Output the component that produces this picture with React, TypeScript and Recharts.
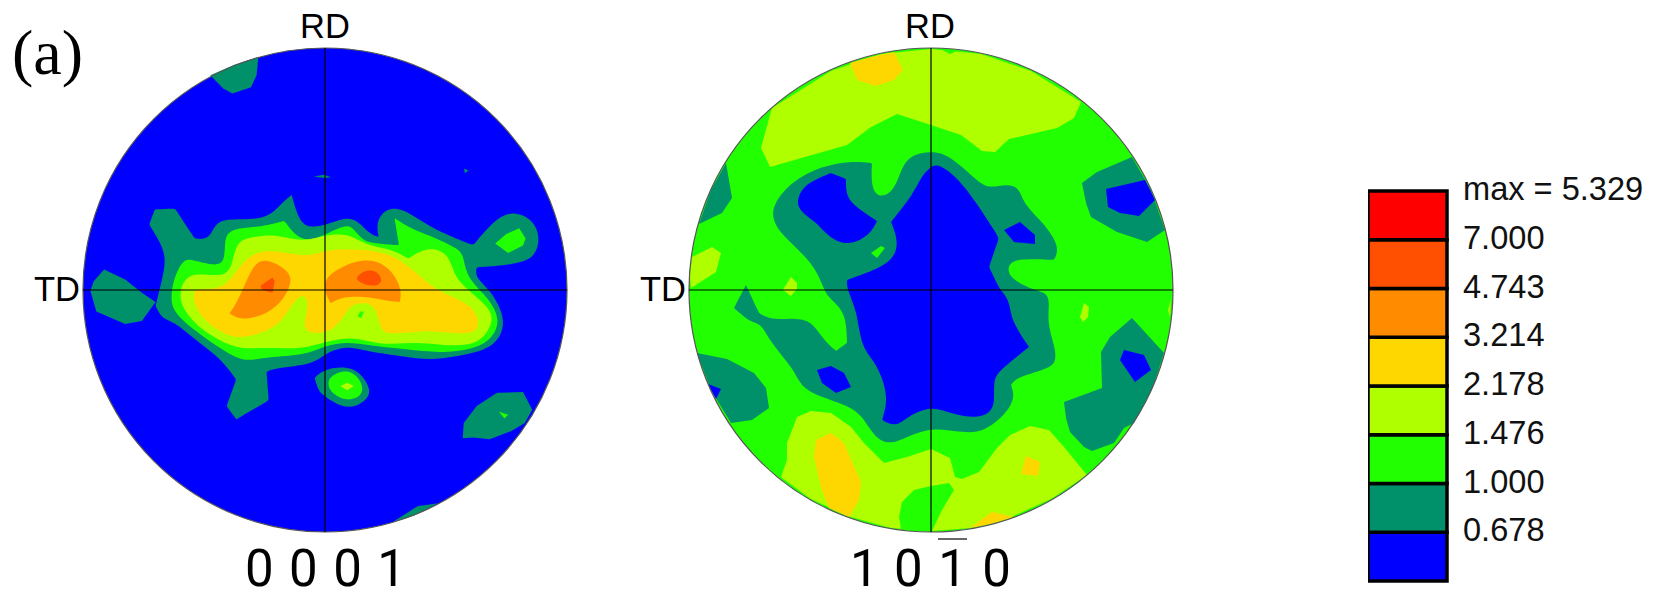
import React from 'react';
import { BarChart, Bar, ScatterChart, Scatter, XAxis, YAxis, ReferenceDot, ReferenceLine } from 'recharts';

type Pt = [number, number];

const BLUE = '#0000ff';
const TEAL = '#00916a';
const GREEN = '#22ff00';
const LIME = '#b0ff00';
const YELLOW = '#ffd700';
const ORANGE = '#ff8c00';
const VERMILION = '#ff4f00';
const RED = '#ff0000';

const legendColors = [BLUE, TEAL, GREEN, LIME, YELLOW, ORANGE, VERMILION, RED];
const legendLabels = ['0.678', '1.000', '1.476', '2.178', '3.214', '4.743', '7.000', 'max = 5.329'];

// Repeated vertices mark the sharp tips of a contour.
// ---- pole figure 0001: read on a grid whose disc spans 226..1534 / 128..1408 ----
const basalTealBody: Pt[] = [[405,595],[405,595],[420,555],[420,555],[475,553],[475,553],[528,632],[528,632],[565,635],[580,600],[605,577],[720,585],[760,540],[790,517],[790,517],[790,517],[810,585],[835,603],[880,598],[935,575],[970,585],[1000,620],[1025,628],[1025,628],[1018,590],[1040,555],[1085,547],[1165,605],[1280,650],[1280,650],[1345,575],[1390,560],[1440,580],[1462,625],[1450,680],[1400,700],[1290,708],[1290,708],[1285,735],[1330,770],[1372,850],[1345,910],[1290,935],[1170,955],[1100,945],[990,930],[940,915],[880,935],[850,965],[740,975],[722,985],[722,985],[728,1060],[728,1060],[640,1110],[640,1110],[640,1110],[614,1075],[614,1075],[640,1005],[640,1005],[600,950],[530,900],[470,850],[440,845],[422,810],[422,810],[440,740],[450,690],[440,650]];
const basalTealLobe: Pt[] = [[283,714],[340,740],[385,775],[422,800],[385,850],[340,858],[262,825],[246,770],[255,745]];
const basalTealTop: Pt[] = [[570,200],[635,172],[700,152],[695,200],[680,232],[630,248],[605,235]];
const basalTealDot1: Pt[] = [[850,468],[878,463],[896,470],[878,472]];
const basalTealDot2: Pt[] = [[1256,447],[1268,452],[1258,459]];
const basalTealBottom: Pt[] = [[1062,1382],[1130,1340],[1185,1332],[1120,1365]];
const basalTealLowerRight: Pt[] = [[1252,1160],[1255,1120],[1290,1075],[1345,1040],[1415,1038],[1440,1085],[1420,1120],[1385,1140],[1325,1163],[1280,1158]];
const basalTealSpot: Pt[] = [[852,1000],[852,1000],[880,975],[960,968],[1000,1020],[1002,1050],[965,1078],[925,1078],[880,1050],[862,1035]];
const basalGreenSpot: Pt[] = [[882,1010],[910,985],[955,980],[985,1020],[978,1050],[940,1062],[900,1045]];
const basalLimeSpot: Pt[] = [[922,1022],[940,1013],[958,1022],[940,1033]];
const basalGreenRight: Pt[] = [[1340,645],[1370,620],[1405,605],[1422,632],[1415,650],[1375,670]];
const basalGreenTiny: Pt[] = [[1350,1090],[1375,1098],[1365,1108]];
const basalGreenBody: Pt[] = [[463,790],[470,740],[495,690],[515,685],[580,705],[610,695],[608,640],[620,605],[700,603],[770,585],[770,585],[800,625],[835,640],[880,622],[940,592],[960,610],[985,640],[1020,645],[1080,650],[1080,650],[1068,578],[1068,578],[1068,578],[1120,610],[1180,630],[1230,655],[1255,670],[1260,735],[1325,790],[1355,850],[1330,900],[1280,925],[1190,935],[1100,925],[1000,915],[940,905],[880,915],[830,940],[720,945],[660,960],[600,925],[520,870],[470,825]];
const basalLimeBody: Pt[] = [[488,770],[500,740],[530,722],[610,735],[630,700],[640,640],[680,628],[750,620],[820,642],[880,622],[945,618],[990,650],[1060,660],[1105,685],[1105,685],[1160,652],[1215,670],[1230,735],[1270,770],[1325,815],[1335,850],[1310,895],[1270,915],[1200,915],[1130,905],[1030,915],[960,890],[880,905],[820,925],[720,920],[650,925],[590,900],[530,860],[490,810]];
const basalYellowBody: Pt[] = [[525,768],[540,765],[615,765],[655,690],[720,655],[830,685],[880,660],[970,660],[1060,670],[1130,725],[1180,770],[1250,795],[1290,825],[1298,870],[1270,885],[1200,880],[1140,875],[1060,885],[1030,880],[1020,815],[990,800],[950,805],[930,840],[900,875],[860,885],[815,875],[838,810],[825,778],[800,790],[760,860],[700,885],[640,898],[590,875],[545,840],[525,800]];
const basalGreenFleck: Pt[] = [[968,838],[975,825],[985,825],[978,842]];
const basalOrangeLeft: Pt[] = [[622,830],[622,830],[640,805],[665,750],[690,695],[725,685],[780,715],[792,745],[770,790],[730,830],[655,850]];
const basalOrangeRight: Pt[] = [[878,745],[900,720],[960,690],[1020,687],[1065,720],[1088,770],[1082,800],[1082,800],[1040,795],[985,785],[930,785],[895,803],[895,803],[880,775]];
const basalPeakLeft: Pt[] = [[706,757],[738,735],[744,745],[738,775],[710,768]];
const basalPeakRight: Pt[] = [[962,735],[990,714],[1020,717],[1036,740],[1025,758],[990,755],[970,745]];

// ---- pole figure 10-10: read on a grid centred on the disc, radius 242 ----
const prismLimeTop: Pt[] = [[-159,182],[-170,142],[-161,123],[-84,145],[-60,163],[-34,176],[0,165],[30,155],[51,139],[64,138],[78,151],[126,162],[143,172],[150,188],[100,219],[50,236],[0,241],[-50,236],[-100,219]];
const prismYellowTop: Pt[] = [[-81,227],[-60,233],[-37,238],[-28,220],[-37,210],[-55,204],[-74,210]];
const prismGreenTop: Pt[] = [[9,241],[19,236],[26,239],[18,241]];
const prismLimeLeft: Pt[] = [[-239,33],[-219,43],[-210,37],[-215,18],[-240,2],[-241,15]];
const prismLimeSmall: Pt[] = [[-147,2],[-140,13],[-134,7],[-134,1],[-140,-6],[-148,0]];
const prismTealEdgeLeft: Pt[] = [[-205,127],[-199,92],[-209,77],[-232,66],[-220,100]];
const prismTealMain: Pt[] = [[-59,127],[-59,127],[-80,129],[-110,124],[-140,108],[-157,87],[-159,73],[-152,57],[-117,27],[-107,0],[-102,-8],[-85,-22],[-84,-53],[-84,-53],[-95,-61],[-95,-61],[-109,-48],[-120,-30],[-140,-28],[-160,-30],[-172,-23],[-172,-23],[-185,5],[-185,5],[-185,5],[-197,-18],[-197,-18],[-197,-18],[-180,-33],[-170,-33],[-160,-53],[-139,-77],[-132,-92],[-122,-103],[-84,-115],[-69,-125],[-57,-147],[-42,-155],[-24,-147],[0,-137],[33,-143],[53,-142],[76,-123],[84,-107],[80,-95],[80,-95],[86,-87],[120,-78],[125,-70],[124,-57],[116,-33],[119,-10],[114,-2],[99,1],[79,12],[76,23],[84,32],[123,30],[123,30],[129,43],[113,67],[93,85],[88,103],[76,106],[59,102],[48,107],[19,135],[0,139],[-20,135],[-29,123],[-34,107],[-42,95],[-54,93],[-60,105]];
const prismBlueUpperLeft: Pt[] = [[-134,92],[-125,107],[-100,117],[-100,117],[-85,111],[-85,111],[-85,93],[-74,82],[-54,69],[-54,69],[-54,69],[-60,57],[-75,47],[-92,46],[-109,60],[-114,67],[-133,80]];
const prismBlueCentre: Pt[] = [[0,124],[-10,113],[-17,97],[-40,68],[-40,68],[-40,68],[-34,53],[-34,37],[-47,23],[-84,10],[-84,10],[-84,0],[-74,-20],[-70,-58],[-54,-73],[-42,-107],[-49,-130],[-49,-130],[-35,-137],[-24,-127],[0,-115],[23,-125],[46,-128],[59,-123],[64,-113],[62,-90],[69,-80],[98,-57],[98,-57],[98,-57],[80,-30],[79,-13],[72,-2],[69,0],[58,23],[58,23],[68,52],[68,52],[33,107],[9,126]];
const prismBlueInner: Pt[] = [[73,60],[89,68],[104,55],[104,46],[83,48]];
const prismGreenFleck: Pt[] = [[-60,37],[-50,44],[-46,42],[-54,32]];
const prismTealRight: Pt[] = [[201,133],[166,118],[151,107],[155,87],[160,73],[186,58],[216,48],[234,60],[220,100]];
const prismBlueRight: Pt[] = [[175,101],[214,110],[224,90],[208,74],[189,77],[177,83]];
const prismTealLowerLeft: Pt[] = [[-234,-63],[-204,-69],[-177,-83],[-165,-98],[-162,-118],[-179,-130],[-200,-133],[-220,-100]];
const prismBlueEdge: Pt[] = [[-223,-94],[-210,-99],[-215,-109]];
const prismBlueHole: Pt[] = [[-114,-80],[-100,-76],[-87,-83],[-80,-97],[-95,-103],[-109,-93]];
const prismLimeBottom: Pt[] = [[-150,-187],[-144,-170],[-144,-153],[-134,-127],[-120,-121],[-100,-123],[-80,-137],[-67,-153],[-47,-173],[-24,-167],[0,-159],[19,-168],[24,-187],[31,-189],[48,-182],[66,-158],[79,-145],[99,-136],[118,-140],[133,-157],[156,-185],[120,-209],[80,-227],[40,-238],[0,-241],[-40,-238],[-80,-227],[-120,-209]];
const prismGreenBottom: Pt[] = [[-30,-239],[-32,-227],[-29,-212],[-17,-200],[0,-196],[18,-193],[23,-200],[11,-220],[1,-241],[-15,-241]];
const prismYellowLeft: Pt[] = [[-115,-150],[-100,-143],[-87,-153],[-79,-172],[-70,-192],[-72,-210],[-82,-227],[-102,-218],[-110,-197],[-117,-167]];
const prismYellowDiamond: Pt[] = [[95,-166],[109,-172],[107,-186],[90,-184]];
const prismYellowBottom: Pt[] = [[39,-238],[61,-222],[83,-227],[60,-234]];
const prismTealLowerRight: Pt[] = [[133,-112],[171,-98],[170,-62],[179,-47],[201,-28],[233,-63],[222,-97],[203,-133],[193,-138],[183,-153],[161,-161],[153,-157],[139,-142],[135,-128]];
const prismBlueLowerRight: Pt[] = [[193,-60],[213,-65],[220,-80],[204,-92],[189,-70]];
const prismLimeSpeck: Pt[] = [[153,-13],[158,-17],[157,-27],[152,-32],[149,-27]];
const prismLimeEdge: Pt[] = [[240,-9],[237,-20],[239,-27]];

type Layer = { color: string; points: Pt[]; round?: boolean };

const basalLayers: Layer[] = [
  { color: TEAL, points: basalTealBody, round: true }, { color: TEAL, points: basalTealLobe }, { color: TEAL, points: basalTealTop },
  { color: TEAL, points: basalTealDot1 }, { color: TEAL, points: basalTealDot2 }, { color: TEAL, points: basalTealBottom },
  { color: TEAL, points: basalTealLowerRight }, { color: TEAL, points: basalTealSpot, round: true },
  { color: GREEN, points: basalGreenSpot, round: true }, { color: LIME, points: basalLimeSpot }, { color: GREEN, points: basalGreenRight },
  { color: GREEN, points: basalGreenTiny }, { color: GREEN, points: basalGreenBody, round: true }, { color: LIME, points: basalLimeBody, round: true },
  { color: YELLOW, points: basalYellowBody, round: true }, { color: GREEN, points: basalGreenFleck },
  { color: ORANGE, points: basalOrangeLeft, round: true }, { color: ORANGE, points: basalOrangeRight, round: true },
  { color: VERMILION, points: basalPeakLeft }, { color: VERMILION, points: basalPeakRight, round: true },
];

const prismLayers: Layer[] = [
  { color: LIME, points: prismLimeTop }, { color: YELLOW, points: prismYellowTop }, { color: GREEN, points: prismGreenTop },
  { color: LIME, points: prismLimeLeft }, { color: LIME, points: prismLimeSmall }, { color: TEAL, points: prismTealEdgeLeft },
  { color: TEAL, points: prismTealMain, round: true }, { color: BLUE, points: prismBlueUpperLeft, round: true }, { color: BLUE, points: prismBlueCentre, round: true },
  { color: BLUE, points: prismBlueInner }, { color: GREEN, points: prismGreenFleck }, { color: TEAL, points: prismTealRight },
  { color: BLUE, points: prismBlueRight }, { color: TEAL, points: prismTealLowerLeft }, { color: BLUE, points: prismBlueEdge },
  { color: BLUE, points: prismBlueHole }, { color: LIME, points: prismLimeBottom }, { color: GREEN, points: prismGreenBottom },
  { color: YELLOW, points: prismYellowLeft }, { color: YELLOW, points: prismYellowDiamond }, { color: YELLOW, points: prismYellowBottom },
  { color: TEAL, points: prismTealLowerRight }, { color: BLUE, points: prismBlueLowerRight }, { color: LIME, points: prismLimeSpeck },
  { color: LIME, points: prismLimeEdge },
];

const noSymbol = () => <g />;
const RADIUS = 242;
const MARGIN = 2;

function PoleFigure({ left, top, layers, xDomain, yDomain, flipY, base }: {
  left: number; top: number; layers: Layer[]; xDomain: [number, number]; yDomain: [number, number]; flipY: boolean; base: string;
}) {
  const cx = (xDomain[0] + xDomain[1]) / 2;
  const cy = (yDomain[0] + yDomain[1]) / 2;
  const size = RADIUS * 2 + MARGIN * 2;
  return (
    <div style={{ position: 'absolute', left, top }}>
      <ScatterChart width={size} height={size} margin={{ top: MARGIN, right: MARGIN, bottom: MARGIN, left: MARGIN }}>
        <XAxis type="number" dataKey="x" domain={xDomain} hide allowDataOverflow />
        <YAxis type="number" dataKey="y" domain={yDomain} reversed={flipY} hide allowDataOverflow />
        <ReferenceDot x={cx} y={cy} r={RADIUS} fill={base} stroke="none" zIndex={-10} />
        {layers.map((layer, i) => (
          <Scatter
            key={i}
            data={layer.points.map(([x, y]) => ({ x, y }))}
            isAnimationActive={false}
            shape={noSymbol}
            line={{ fill: layer.color, stroke: 'none', strokeWidth: 0 }}
            lineJointType={layer.round ? 'basisClosed' : 'linear'}
            legendType="none"
          />
        ))}
        <ReferenceDot x={cx} y={cy} r={RADIUS} fill="none" stroke="#555" strokeWidth={1.2} zIndex={2000} />
        <ReferenceLine x={cx} stroke="#000" strokeWidth={1.2} zIndex={2000} />
        <ReferenceLine y={cy} stroke="#000" strokeWidth={1.2} zIndex={2000} />
      </ScatterChart>
    </div>
  );
}

const legendRow = [Object.fromEntries(legendColors.map((_, i) => [`s${i}`, 1]))];
const legendTicks = legendLabels.map((_, i) => i + 1);

const SANS = '"Liberation Sans", Arial, sans-serif';

const legendTick = (p: any) => (
  <text x={p.x} y={p.y + 9} fill="#111" fontSize={32.6} fontFamily={SANS} textAnchor="start">
    {legendLabels[p.payload.value - 1]}
  </text>
);

function ColourScale() {
  return (
    <div style={{ position: 'absolute', left: 1368, top: 170 }}>
      <BarChart width={295} height={431} data={legendRow} barCategoryGap={0} margin={{ top: 21, right: 0, bottom: 20, left: 0 }}>
        <XAxis hide type="category" />
        <YAxis
          orientation="right"
          type="number"
          domain={[0, 8]}
          ticks={legendTicks}
          interval={0}
          width={216}
          axisLine={false}
          tickLine={false}
          tickSize={0}
          tickMargin={16}
          tick={legendTick}
        />
        {legendColors.map((c, i) => (
          <Bar key={i} dataKey={`s${i}`} stackId="scale" fill={c} stroke="#000" strokeWidth={3.5} isAnimationActive={false} />
        ))}
      </BarChart>
    </div>
  );
}

const planeLabelStyle: React.CSSProperties = {
  position: 'absolute',
  top: 548.6,
  height: 40,
  lineHeight: '40px',
  fontFamily: 'Roboto, sans-serif',
  fontSize: 51,
  letterSpacing: 15.4,
  whiteSpace: 'nowrap',
  color: '#000',
};

export default function App() {
  return (
    <div style={{ position: 'absolute', left: 0, top: 0, width: 1663, height: 593, background: '#fff', overflow: 'hidden' }}>
      <PoleFigure left={81.3} top={46} layers={basalLayers} xDomain={[226, 1534]} yDomain={[128, 1408]} flipY base={BLUE} />
      <PoleFigure left={686.5} top={46} layers={prismLayers} xDomain={[-242, 242]} yDomain={[-242, 242]} flipY={false} base={GREEN} />
      <ColourScale />
      <div style={{ ...planeLabelStyle, left: 245 }}>0001</div>
      <div style={{ ...planeLabelStyle, left: 850 }}>1010</div>
      <svg width={1663} height={540} style={{ position: 'absolute', left: 0, top: 0, pointerEvents: 'none' }}>
        <text x={12} y={74} fontFamily='"Liberation Serif", serif' fontSize={64} fill="#000">(a)</text>
        <g fontFamily={SANS} fontSize={34.5} fill="#000">
          <text x={300} y={38}>RD</text>
          <text x={905} y={38}>RD</text>
          <text x={34} y={301}>TD</text>
          <text x={640} y={301}>TD</text>
        </g>
        <line x1={938} x2={967} y1={539} y2={539} stroke="#000" strokeWidth={1.2} />
      </svg>
    </div>
  );
}
